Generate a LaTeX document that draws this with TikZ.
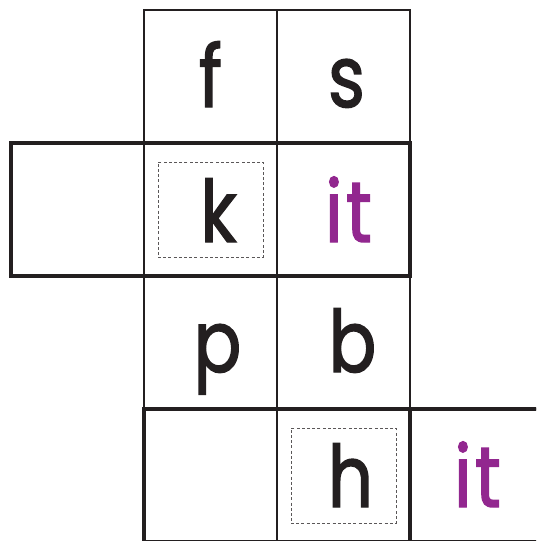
\documentclass[tikz,border=0pt]{standalone}
\usepackage{fontspec}
\setmainfont{Poppins}[FakeStretch=0.82,FakeBold=1.6]
\usetikzlibrary{positioning}
\definecolor{ink}{RGB}{35,31,32}
\definecolor{rimepurple}{RGB}{146,39,143}
\newcommand{\rimeit}{i\kern3.5pt t}
\begin{document}
\begin{tikzpicture}[x=1pt,y=-1pt,
  cell/.style={draw=ink,line width=1.8pt,minimum width=133pt,minimum height=133pt,outer sep=0pt,inner sep=0pt},
  thickbox/.style={draw=ink,line width=4.2pt},
  guide/.style={draw=ink!75,line width=0.9pt,dash pattern=on 3pt off 2.2pt,minimum width=105pt,minimum height=95pt,inner sep=0pt},
  letter/.style={anchor=base,inner sep=0pt,text=ink,font=\fontsize{86}{86}\selectfont},
  rime/.style={letter,text=rimepurple}]
\clip (0,0) rectangle (536,541);
\node[cell] (c12) at (210.5,76.5) {};
\node[cell,right=0pt of c12] (c13) {};
\node[cell,below=0pt of c12] (c22) {};
\node[cell,left=0pt of c22] (c21) {};
\node[cell,right=0pt of c22] (c23) {};
\node[cell,below=0pt of c22] (c32) {};
\node[cell,right=0pt of c32] (c33) {};
\node[cell,below=0pt of c32] (c42) {};
\node[cell,right=0pt of c42] (c43) {};
\node[cell,right=0pt of c43] (c44) {};
% thick frames round the word rows
\draw[thickbox] (c21.north west) rectangle (c23.south east);
\draw[thickbox] (c42.north west) rectangle (c44.south east);
\draw[thickbox] (c43.north east)--(c43.south east);
% dotted guides for the onset
\node[guide] (gk) at (c22.center) {};
\node[guide] (gh) at (c43.center) {};
% letters
\node[letter] (f) at ([yshift=-97pt]c12.north) {f};
\node[letter] (s) at ([xshift=3pt,yshift=-97pt]c13.north) {s};
\node[letter] (k) at ([xshift=8pt,yshift=-99pt]c22.north) {k};
\node[rime] (it1) at ([xshift=5pt,yshift=-99pt]c23.north) {\rimeit};
\node[letter] (p) at ([xshift=7pt,yshift=-96pt]c32.north) {p};
\node[letter] (b) at ([xshift=9pt,yshift=-96pt]c33.north) {b};
\node[letter] (h) at ([xshift=7pt,yshift=-98pt]c43.north) {h};
\node[rime] (it2) at ([xshift=1pt,yshift=-98pt]c44.north) {\rimeit};
\end{tikzpicture}
\end{document}
